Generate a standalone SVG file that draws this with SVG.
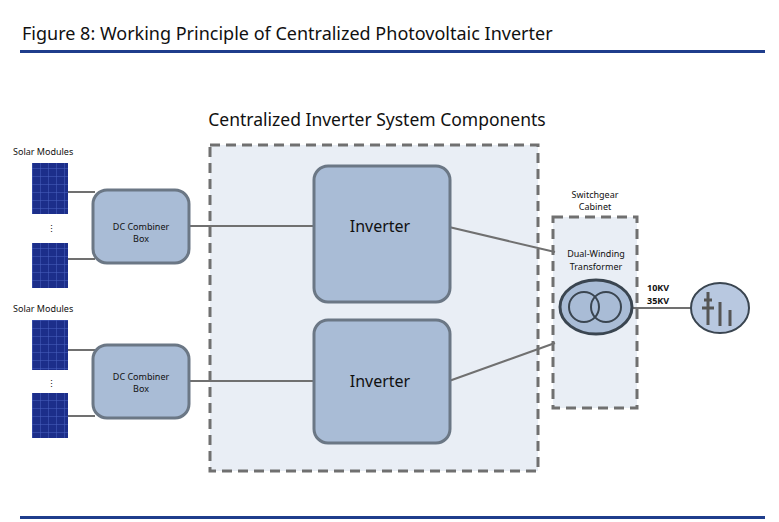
<svg xmlns="http://www.w3.org/2000/svg" width="779" height="522" viewBox="0 0 779 522">
<defs>
<style>
text{font-family:"Noto Sans","Open Sans",sans-serif;fill:#111}
.box{fill:#a9bcd6;stroke:#6b7785;stroke-width:3}
.dash{fill:#e9eef5;stroke:#707070;stroke-width:3;stroke-dasharray:10,6}
.wire{stroke:#707070;stroke-width:2;fill:none}
.sm{font-size:9px}
</style>
<pattern id="pv" width="8" height="8" patternUnits="userSpaceOnUse">
<rect width="8" height="8" fill="#1c2e8a"/><path d="M0 0H8M0 0V8" stroke="#4a62c0" stroke-width="1"/>
</pattern>
</defs>
<rect width="779" height="522" fill="#fff"/>
<text x="22" y="40" font-size="18">Figure 8: Working Principle of Centralized Photovoltaic Inverter</text>
<rect x="20" y="50" width="745" height="3" fill="#1f3d8c"/>
<rect x="20" y="516" width="745" height="3" fill="#1f3d8c"/>
<text x="377" y="126" font-size="17.5" text-anchor="middle">Centralized Inverter System Components</text>
<g id="system"><rect class="dash" x="210" y="145" width="328" height="326"/></g>
<g id="cabinet"><rect class="dash" x="553" y="217" width="84" height="191"/>
<text class="sm" x="595" y="198" text-anchor="middle">Switchgear</text><text class="sm" x="595" y="210" text-anchor="middle">Cabinet</text></g>
<g id="connectors">
<path class="wire" d="M68 192H95M68 259H95M68 350H95M68 416H95M188 226H315M188 381H315M449 227L555 252M449 381L555 343M628 308H692"/>
</g>
<g id="pv1"><text class="sm" x="13" y="155">Solar Modules</text>
<rect x="32" y="163" width="36" height="51" fill="url(#pv)"/><rect x="32" y="243" width="36" height="45" fill="url(#pv)"/>
<text x="47" y="232" font-size="9" fill="#aaa">⋮</text></g>
<g id="pv2"><text class="sm" x="13" y="312">Solar Modules</text>
<rect x="32" y="320" width="36" height="50" fill="url(#pv)"/><rect x="32" y="393" width="36" height="45" fill="url(#pv)"/>
<text x="47" y="387" font-size="9" fill="#aaa">⋮</text></g>
<g id="dc1"><rect class="box" x="93" y="190" width="96" height="73" rx="14"/>
<text class="sm" x="141" y="230" text-anchor="middle">DC Combiner</text><text class="sm" x="141" y="242" text-anchor="middle">Box</text></g>
<g id="dc2"><rect class="box" x="93" y="345" width="96" height="73" rx="14"/>
<text class="sm" x="141" y="380" text-anchor="middle">DC Combiner</text><text class="sm" x="141" y="392" text-anchor="middle">Box</text></g>
<g id="inv1"><rect class="box" x="314" y="166" width="136" height="136" rx="14"/>
<text x="380" y="232" font-size="16" text-anchor="middle">Inverter</text></g>
<g id="inv2"><rect class="box" x="314" y="320" width="136" height="123" rx="14"/>
<text x="380" y="387" font-size="16" text-anchor="middle">Inverter</text></g>
<g id="transformer"><text class="sm" x="596" y="257" text-anchor="middle">Dual-Winding</text><text class="sm" x="596" y="270" text-anchor="middle">Transformer</text>
<ellipse cx="596" cy="307" rx="36" ry="27" fill="#a9bcd6" stroke="#3a4550" stroke-width="3"/>
<circle cx="584" cy="307" r="15" fill="none" stroke="#3a4550" stroke-width="2"/><circle cx="606" cy="307" r="15" fill="none" stroke="#3a4550" stroke-width="2"/></g>
<g id="grid"><text x="647" y="291" font-size="9" font-weight="bold" font-family="Liberation Serif,serif">10KV</text>
<text x="647" y="304" font-size="9" font-weight="bold" font-family="Liberation Serif,serif">35KV</text>
<ellipse cx="720" cy="308" rx="29" ry="25" fill="#b8c8e0" stroke="#3a4550" stroke-width="2"/>
<path d="M708 292V325M704 300H712M702 308H714M720 302V326M730 310V326" stroke="#555" stroke-width="3"/></g>
</svg>
